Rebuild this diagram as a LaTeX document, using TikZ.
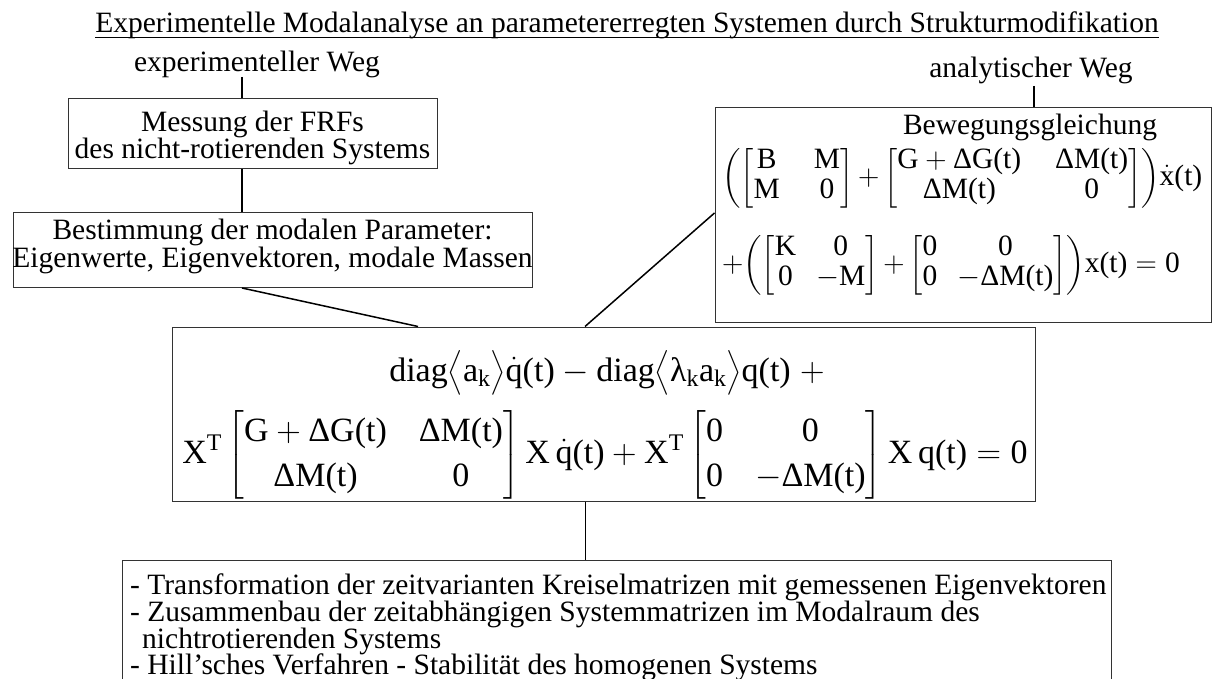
\RequirePackage{fix-cm}
\documentclass[tikz,border=0pt]{standalone}
\usepackage{amsmath}
\usepackage[no-math]{fontspec}
\setmainfont{Liberation Serif}
\newcommand\tx[1]{\text{#1}}
\newcommand\tplus{\mathord{+}}
\begin{document}
\begin{tikzpicture}[x=1pt,y=-1pt,
  txt/.style={inner sep=0pt, font=\fontsize{29.5}{30}\selectfont},
  mth/.style={inner sep=0pt, font=\fontsize{34}{45}\selectfont},
  boxm/.style={draw=black!80, line width=1pt, inner sep=0pt},
  conn/.style={draw=black, line width=1.5pt}]
\useasboundingbox[fill=white] (0,0) rectangle (1216,679);

% title and headings
\node[txt, anchor=base] (title) at (627,33) {Experimentelle Modalanalyse an parametererregten Systemen durch Strukturmodifikation};
\draw[line width=1.2pt] ([yshift=-4.5pt]title.base west) -- ([yshift=-4.5pt]title.base east);
\node[txt, anchor=base] (expw) at (257,72) {experimenteller Weg};
\node[txt, anchor=base] (anaw) at (1031,78) {analytischer Weg};

% boxes
\node[boxm, minimum width=369pt, minimum height=70pt] (b1) at (252.5,134) {};
\node[boxm, minimum width=519pt, minimum height=75pt] (b2) at (272.5,250) {};
\node[boxm, minimum width=496pt, minimum height=214pt] (b3) at (963,215) {};
\node[boxm, minimum width=863pt, minimum height=174pt] (m) at (603.5,414) {};
\node[boxm, minimum width=989pt, minimum height=160pt] (b4) at (616.5,640) {};

% box texts
\node[txt, anchor=base] (b1a) at (252.5,132) {Messung der FRFs};
\node[txt, anchor=base] (b1b) at (252.5,159) {des nicht-rotierenden Systems};
\node[txt, anchor=base] (b2a) at (272.5,240) {Bestimmung der modalen Parameter:};
\node[txt, anchor=base] (b2b) at (272.5,268) {Eigenwerte, Eigenvektoren, modale Massen};
\node[txt, anchor=base] (b3h) at (1030,135) {Bewegungsgleichung};
\node[txt, anchor=west] (b3l1) at (722,178) {\arraycolsep=17pt
 ${\left(\begin{bmatrix}\tx{B} & \tx{M}\\ \tx{M} & \tx{0}\end{bmatrix}\tplus\begin{bmatrix}\tx{G}+\tx{ΔG(t)} & \tx{ΔM(t)}\\ \tx{ΔM(t)} & \tx{0}\end{bmatrix}\right)}\dot{\tx{x}}\tx{(t)}$};
\node[txt, anchor=west] (b3l2) at (722,265) {\arraycolsep=10pt
 $\tplus{\left(\begin{bmatrix}\tx{K} & \tx{0}\\ \tx{0} & -\tx{M}\end{bmatrix}\tplus\begin{bmatrix}\tx{0} & \tx{0}\\ \tx{0} & -\tx{ΔM(t)}\end{bmatrix}\right)}\tx{x(t)}=\tx{0}$};

\node[mth, anchor=base] (m1) at (607,381) {$\tx{diag}\bigl\langle \tx{a}_{\tx{k}}\bigr\rangle\dot{\tx{q}}\tx{(t)}-\tx{diag}\bigl\langle \tx{λ}_{\tx{k}}\tx{a}_{\tx{k}}\bigr\rangle\tx{q(t)}\;\tplus$};
\node[mth] (m2) at (605,455) {\arraycolsep=16pt
 $\tx{X}^{\tx{T}}\begin{bmatrix}\tx{G}+\tx{ΔG(t)} & \tx{ΔM(t)}\\ \tx{ΔM(t)} & \tx{0}\end{bmatrix}\tx{X}\,\dot{\tx{q}}\tx{(t)}+\tx{X}^{\tx{T}}\begin{bmatrix}\tx{0} & \tx{0}\\ \tx{0} & -\tx{ΔM(t)}\end{bmatrix}\tx{X}\,\tx{q(t)}=\tx{0}$};

\node[txt, anchor=base west] (t1) at (130,594) {- Transformation der zeitvarianten Kreiselmatrizen mit gemessenen Eigenvektoren};
\node[txt, anchor=base west] (t2) at (130,621) {- Zusammenbau der zeitabhängigen Systemmatrizen im Modalraum des};
\node[txt, anchor=base west] (t3) at (142,648) {nichtrotierenden Systems};
\node[txt, anchor=base west] (t4) at (130,674) {- Hill'sches Verfahren - Stabilität des homogenen Systems};

% connectors
\coordinate (c1) at (242,77);
\coordinate (c3) at (418,0);
\coordinate (c4) at (585,0);
\coordinate (c5) at (0,213);
\coordinate (c6) at (1034,86);
\draw[conn] (c1) -- (c1 |- b1.north);
\draw[conn] (b1.south -| c1) -- (b2.north -| c1);
\draw[conn] (b2.south -| c1) -- (m.north -| c3);
\draw[conn] (m.north -| c4) -- (b3.west |- c5);
\draw[conn] (c6) -- (c6 |- b3.north);
\draw[line width=0.8pt] (m.south -| c4) -- (b4.north -| c4);
\end{tikzpicture}
\end{document}
